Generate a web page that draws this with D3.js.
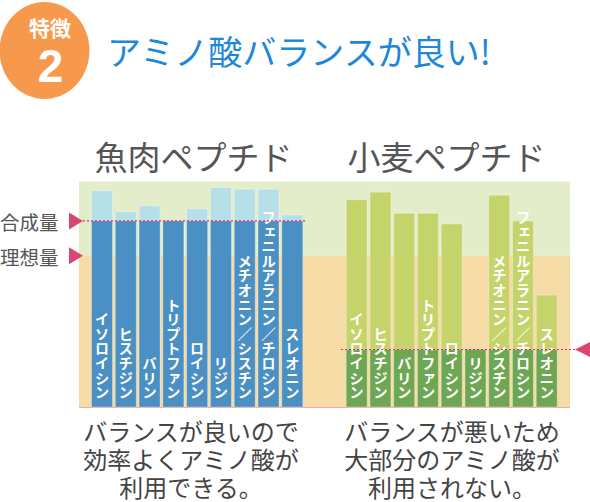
<!DOCTYPE html>
<html><head><meta charset="utf-8">
<script src="https://cdn.jsdelivr.net/npm/d3@7"></script>
<style>
html,body{margin:0;padding:0;background:#fff;}
svg{display:block;font-family:"Noto Sans CJK JP","Noto Sans",sans-serif;}
</style></head>
<body>
<svg id="c" width="590" height="502"></svg>
<script>
const categories = ["イソロイシン","ヒスチジン","バリン","トリプトファン","ロイシン","リジン","メチオニン／シスチン","フェニルアラニン／チロシン","スレオニン"];
const fishValues = [143,129,133,123,131,145,144,144,127];
const wheatValues = [137,142,128,128,121,38,140,123,74];
const idealValue = 100;
const axisMax = 149;
const panelTitles = ["魚肉ペプチド","小麦ペプチド"];
const captions = [["バランスが良いので","効率よくアミノ酸が","利用できる。"],["バランスが悪いため","大部分のアミノ酸が","利用されない。"]];
const levelLabels = ["合成量","理想量"];

const svg = d3.select("#c");
const y = d3.scaleLinear().domain([0, idealValue]).range([407, 255.7]);
const px0 = 79, px1 = 570;

// header badge
svg.append("ellipse").attr("cx",44.5).attr("cy",50.5).attr("rx",45).attr("ry",48.5).attr("fill","#F7994D");
svg.append("text").attr("x",50).attr("y",36).attr("text-anchor","middle")
  .attr("fill","#fff").attr("font-size",21).attr("font-weight",700).text("特徴");
svg.append("text").attr("x",50.5).attr("y",82).attr("text-anchor","middle")
  .attr("fill","#fff").attr("font-size",46).attr("font-weight",700).attr("font-family","'Liberation Sans',Arial,sans-serif").text("2");
svg.append("text").attr("x",107).attr("y",65)
  .attr("fill","#1E88D8").attr("font-size",34).text("アミノ酸バランスが良い!");

// backgrounds
svg.append("rect").attr("x",px0).attr("y",y(axisMax)).attr("width",px1-px0).attr("height",y(idealValue)-y(axisMax)).attr("fill","#E3EDC9");
svg.append("rect").attr("x",px0).attr("y",y(idealValue)).attr("width",px1-px0).attr("height",y(0)-y(idealValue)).attr("fill","#F5DBA5");
svg.append("line").attr("x1",px0).attr("x2",px1).attr("y1",y(0)+0.5).attr("y2",y(0)+0.5).attr("stroke","#F2A7B5").attr("stroke-width",1);

const panels = [
  {vals: fishValues, range:[91,303.3], light:"#B7DFE7", dark:"#4A90C4", title:panelTitles[0], tx:193.5, cx:191, cap:captions[0], line:[83,307]},
  {vals: wheatValues, range:[345.7,557.7], light:"#C4D46B", dark:"#6EA754", title:panelTitles[1], tx:446.5, cx:452, cap:captions[1], line:[341,576]}
];

panels.forEach(p => {
  const x = d3.scaleBand().domain(categories).range(p.range).paddingInner(0.075).paddingOuter(0);
  const minV = d3.min(p.vals);
  const data = categories.map((c,i)=>({c, v:p.vals[i]}));
  const g = svg.append("g");
  g.selectAll(".top").data(data).join("rect")
    .attr("x",d=>x(d.c)+0.5).attr("width",x.bandwidth()-1)
    .attr("y",d=>y(d.v)).attr("height",d=>Math.max(0,y(minV)-y(d.v)))
    .attr("fill",p.light).attr("stroke","rgba(255,255,255,0.35)").attr("stroke-width",1);
  g.selectAll(".bot").data(data).join("rect")
    .attr("x",d=>x(d.c)+0.5).attr("width",x.bandwidth()-1)
    .attr("y",y(minV)).attr("height",y(0)-y(minV))
    .attr("fill",p.dark).attr("stroke","rgba(255,255,255,0.3)").attr("stroke-width",1);
  g.selectAll(".lab").data(data).join("text")
    .attr("x",d=>x(d.c)+x.bandwidth()/2).attr("y",400)
    .attr("text-anchor","end")
    .style("writing-mode","vertical-rl")
    .attr("fill","#fff").attr("font-size",14.6).attr("font-weight",700)
    .text(d=>d.c);
  svg.append("line").attr("x1",p.line[0]).attr("x2",p.line[1]).attr("y1",y(minV)).attr("y2",y(minV))
    .attr("stroke","#E2257D").attr("stroke-width",1.2).attr("stroke-dasharray","2,2");
  svg.append("text").attr("x",p.tx).attr("y",170).attr("text-anchor","middle")
    .attr("fill","#555").attr("font-size",33).text(p.title);
  p.cap.forEach((t,i)=>{
    svg.append("text").attr("x",p.cx).attr("y",441+i*28).attr("text-anchor","middle")
      .attr("fill","#444").attr("font-size",24).text(t);
  });
});

// level labels and arrows
const arrowColor = "#DA4670";
const fishMin = d3.min(fishValues), wheatMin = d3.min(wheatValues);
[[levelLabels[0], y(fishMin)],[levelLabels[1], y(idealValue)]].forEach(([t,yy])=>{
  svg.append("text").attr("x",0).attr("y",yy+9).attr("fill","#555").attr("font-size",19.5).text(t);
  svg.append("path").attr("d",`M69,${yy-8.5}L83,${yy}L69,${yy+8.5}Z`).attr("fill",arrowColor);
});
{
  const yy = y(wheatMin);
  svg.append("path").attr("d",`M591,${yy-8}L575,${yy}L591,${yy+8}Z`).attr("fill",arrowColor);
}
</script>
</body></html>
